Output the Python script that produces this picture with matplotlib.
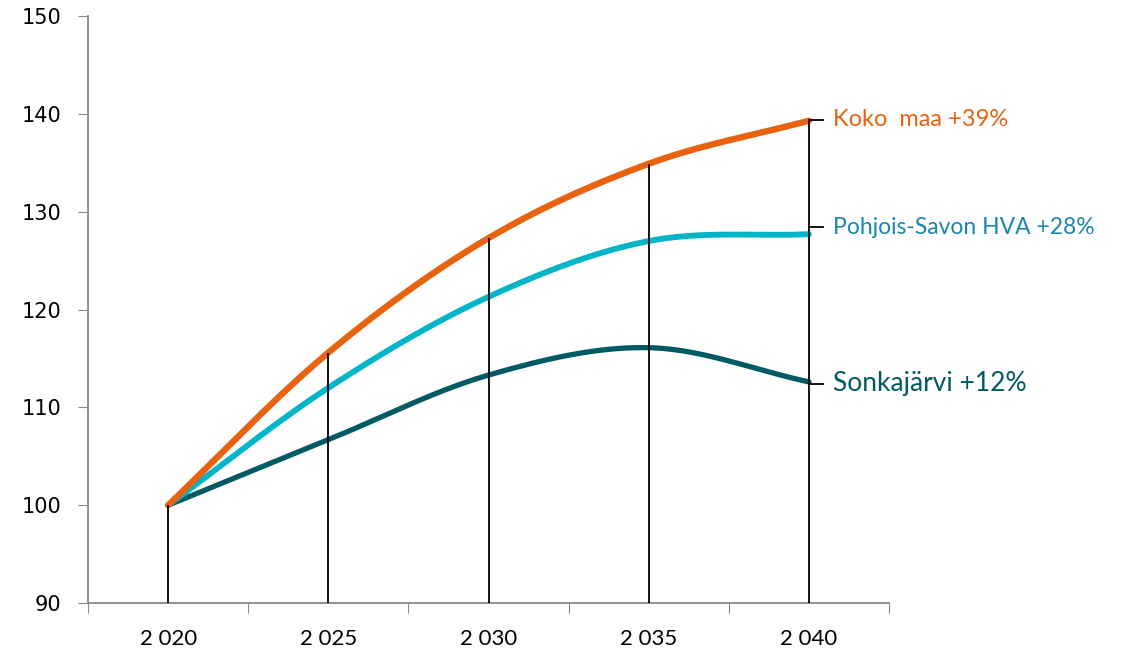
import numpy as np
import matplotlib
matplotlib.use('Agg')
import matplotlib.pyplot as plt

years = ["2 020", "2 025", "2 030", "2 035", "2 040"]
koko_maa = [100, 115.6, 127.3, 134.9, 139.3]
pohjois_savo = [100, 112.0, 121.3, 127.0, 127.7]
sonkajarvi = [100, 106.7, 113.3, 116.1, 112.6]

labels = ["Koko  maa +39%", "Pohjois-Savon HVA +28%", "Sonkajärvi +12%"]
label_y = [139.4, 128.4, 112.4]

C_ORANGE = '#E8620F'
C_CYAN = '#00B5C8'
C_TEAL = '#005A63'


def smooth(y, n=40):
    # catmull-rom smoothing (Excel-like), ends extrapolated linearly
    y = np.asarray(y, float)
    p = np.concatenate([[2 * y[0] - y[1]], y, [2 * y[-1] - y[-2]]])
    xs, ys = [], []
    for i in range(len(y) - 1):
        p0, p1, p2, p3 = p[i], p[i + 1], p[i + 2], p[i + 3]
        t = np.linspace(0, 1, n, endpoint=(i == len(y) - 2))
        yy = 0.5 * ((2 * p1) + (-p0 + p2) * t + (2 * p0 - 5 * p1 + 4 * p2 - p3) * t**2
                    + (-p0 + 3 * p1 - 3 * p2 + p3) * t**3)
        xs.append(i + t); ys.append(yy)
    return np.concatenate(xs), np.concatenate(ys)


fig = plt.figure(figsize=(11.29, 6.51), dpi=100)
ax = fig.add_axes([0.078, 0.0737, 0.7095, 0.9017])
x = np.arange(len(years))

for vals, col, lw in [(koko_maa, C_ORANGE, 4.6), (pohjois_savo, C_CYAN, 4.2), (sonkajarvi, C_TEAL, 3.8)][::-1]:
    sx, sy = smooth(vals)
    ax.plot(sx, sy, color=col, lw=lw, solid_capstyle='round', zorder=3)

# drop lines from the highest series
top = np.max([koko_maa, pohjois_savo, sonkajarvi], axis=0)
ax.vlines(x, 90, top, color='black', lw=1.3, zorder=4)

# data labels with short leaders at the last point
lab_cols = [C_ORANGE, '#1A86B0', C_TEAL]
lab_sizes = [17, 16.5, 19]
for ly, txt, c, fs in zip(label_y, labels, lab_cols, lab_sizes):
    ax.plot([4, 4.085], [ly, ly], color='black', lw=1.3, clip_on=False, zorder=4)
    ax.text(4.15, ly, txt, color=c, fontsize=fs, va='center', ha='left',
            family='Lato', clip_on=False)

ax.set_xlim(-0.5, 4.5)
ax.set_ylim(90, 150)
ax.set_yticks(range(90, 151, 10))
ax.set_xticks(np.arange(-0.5, 4.6, 1))
ax.set_xticklabels([])
ax.set_xticks(x, minor=True)
ax.set_xticklabels(years, minor=True, fontsize=16, family='Lato')
ax.tick_params(axis='x', which='major', length=7, color='#888888', direction='out')
ax.tick_params(axis='x', which='minor', length=0, pad=19)
ax.tick_params(axis='y', length=7, color='#888888', pad=12, labelsize=15)

for s in ['top', 'right']:
    ax.spines[s].set_visible(False)
for s in ['left', 'bottom']:
    ax.spines[s].set_color('#888888')
    ax.spines[s].set_linewidth(1.3)

fig.savefig('out.png', dpi=100)
